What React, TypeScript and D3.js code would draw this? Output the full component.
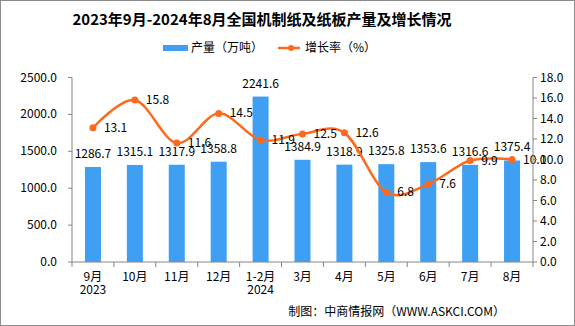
import React from "react";
import * as d3 from "d3";

const categories = ["9月", "10月", "11月", "12月", "1-2月", "3月", "4月", "5月", "6月", "7月", "8月"];
const subLabels = ["2023", "", "", "", "2024", "", "", "", "", "", ""];
const production = [1286.7, 1315.1, 1317.9, 1358.8, 2241.6, 1384.9, 1318.9, 1325.8, 1353.6, 1316.6, 1375.4];
const growth = [13.1, 15.8, 11.6, 14.5, 11.9, 12.5, 12.6, 6.8, 7.6, 9.9, 10.0];
const leftTicks = [0, 500, 1000, 1500, 2000, 2500];
const rightTicks = [0, 2, 4, 6, 8, 10, 12, 14, 16, 18];

const W = 575;
const H = 326;
const M = { left: 72, right: 533, top: 77.5, bottom: 262 };
const BLUE = "#3f9ff2";
const ORANGE = "#fd6a1c";
const AXIS = "#868686";
const FONT = "'Noto Sans CJK SC', 'DejaVu Sans', sans-serif";

export default function App() {
  const x = d3.scaleBand<string>().domain(categories).range([M.left, M.right]).paddingInner(0).paddingOuter(0);
  const yL = d3.scaleLinear().domain([0, 2500]).range([M.bottom, M.top]);
  const yR = d3.scaleLinear().domain([0, 18]).range([M.bottom, M.top]);
  const barW = 16;
  const cx = (c: string) => (x(c) as number) + x.bandwidth() / 2;

  const line = d3
    .line<number>()
    .x((_, i) => cx(categories[i]))
    .y((d) => yR(d))
    .curve(d3.curveCardinal.tension(0));

  return (
    <svg width={W} height={H} style={{ position: "absolute", left: 0, top: 0, background: "#fff" }} fontFamily={FONT}>
      <rect x={0.5} y={0.5} width={W - 1} height={H - 1} fill="#fff" stroke="#8c8c8c" />
      <text x={262} y={25} textAnchor="middle" fontSize={15} fontWeight="bold" fill="#000">
        2023年9月-2024年8月全国机制纸及纸板产量及增长情况
      </text>
      {/* legend */}
      <rect x={163} y={45} width={25} height={6} fill={BLUE} />
      <text x={191} y={52} fontSize={12} fill="#000">产量（万吨）</text>
      <line x1={278} x2={300} y1={48} y2={48} stroke={ORANGE} strokeWidth={2.5} />
      <circle cx={291} cy={48} r={3} fill={ORANGE} />
      <text x={305} y={52} fontSize={12} fill="#000">增长率（%）</text>

      {/* bars */}
      {production.map((v, i) => (
        <rect key={"b" + i} x={cx(categories[i]) - barW / 2} y={yL(v)} width={barW} height={M.bottom - yL(v)} fill={BLUE} />
      ))}
      {production.map((v, i) => (
        <text key={"bl" + i} x={cx(categories[i])} y={yL(v) - 9} textAnchor="middle" fontSize={12} fill="#000">
          {v.toFixed(1)}
        </text>
      ))}

      {/* line */}
      <path d={line(growth) || ""} fill="none" stroke={ORANGE} strokeWidth={2.5} />
      {growth.map((v, i) => (
        <circle key={"c" + i} cx={cx(categories[i])} cy={yR(v)} r={3.5} fill={ORANGE} />
      ))}
      {growth.map((v, i) => (
        <text key={"gl" + i} x={cx(categories[i]) + 11} y={yR(v) + 4} fontSize={12} fill="#000">
          {v.toFixed(1)}
        </text>
      ))}

      {/* left axis */}
      <line x1={M.left} x2={M.left} y1={M.top} y2={M.bottom} stroke={AXIS} />
      {leftTicks.map((t) => (
        <g key={"lt" + t}>
          <line x1={M.left - 4} x2={M.left} y1={yL(t)} y2={yL(t)} stroke={AXIS} />
          <text x={57} y={yL(t) + 4} textAnchor="end" fontSize={12} fill="#000">
            {t.toFixed(1)}
          </text>
        </g>
      ))}
      {/* right axis */}
      <line x1={M.right} x2={M.right} y1={M.top} y2={M.bottom} stroke={AXIS} />
      {rightTicks.map((t) => (
        <g key={"rt" + t}>
          <line x1={M.right} x2={M.right + 4} y1={yR(t)} y2={yR(t)} stroke={AXIS} />
          <text x={540} y={yR(t) + 4} fontSize={12} fill="#000">
            {t.toFixed(1)}
          </text>
        </g>
      ))}
      {/* bottom axis */}
      <line x1={M.left} x2={M.right} y1={M.bottom} y2={M.bottom} stroke={AXIS} />
      {categories.map((c, i) => (
        <line key={"xt" + i} x1={x(c) as number} x2={x(c) as number} y1={M.bottom} y2={M.bottom + 5} stroke={AXIS} />
      ))}
      <line x1={M.right} x2={M.right} y1={M.bottom} y2={M.bottom + 5} stroke={AXIS} />
      {categories.map((c, i) => (
        <g key={"xl" + i}>
          <text x={cx(c)} y={281} textAnchor="middle" fontSize={12} fill="#000">{c}</text>
          {subLabels[i] && (
            <text x={cx(c)} y={294} textAnchor="middle" fontSize={12} fill="#000">{subLabels[i]}</text>
          )}
        </g>
      ))}
      <text x={505} y={316} textAnchor="end" fontSize={12} fill="#000">制图：中商情报网（WWW.ASKCI.COM）</text>
    </svg>
  );
}
